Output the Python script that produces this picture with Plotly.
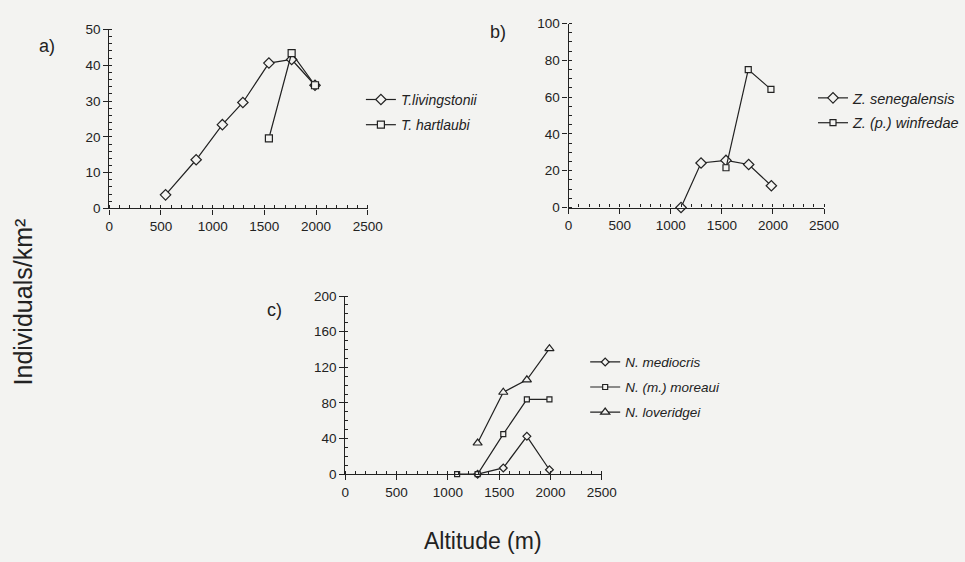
import plotly.graph_objects as go

# ---------------- data ----------------
alt_a_liv = [544, 840, 1094, 1292, 1544, 1764, 1990]
dens_a_liv = [3.8, 13.6, 23.4, 29.6, 40.6, 41.6, 34.4]
alt_a_har = [1544, 1764, 1990]
dens_a_har = [19.6, 43.4, 34.4]

alt_b_sen = [1100, 1296, 1540, 1762, 1984]
dens_b_sen = [0, 24.2, 25.6, 23.4, 11.8]
alt_b_win = [1540, 1758, 1980]
dens_b_win = [21.6, 75.0, 64.2]

alt_c_med = [1290, 1540, 1770, 1990]
dens_c_med = [0, 7, 42.5, 5]
alt_c_mor = [1090, 1290, 1540, 1770, 1990]
dens_c_mor = [0, 0, 45, 84, 84]
alt_c_lov = [1290, 1540, 1770, 1990]
dens_c_lov = [35, 92, 106, 141]

x_ticks = [0, 500, 1000, 1500, 2000, 2500]

BG = "#f3f3f1"
INK = "#222222"
FONT = "Arial, Liberation Sans, sans-serif"

W, H = 965, 562

def px_x(p):
    return p / W

def px_y(p):
    return (H - p) / H

fig = go.Figure()

def add(x, y, name, symbol, size, xa, ya, legend):
    fig.add_trace(go.Scatter(
        x=x, y=y, name=name, mode="lines+markers",
        xaxis=xa, yaxis=ya, legend=legend, legendgroup=name,
        line=dict(color=INK, width=1.2),
        marker=dict(symbol=symbol, size=size, color=BG,
                    line=dict(color=INK, width=1.2)),
        cliponaxis=False,
    ))

add(alt_a_liv, dens_a_liv, "<i>T.livingstonii</i>", "diamond", 8, "x", "y", "legend")
add(alt_a_har, dens_a_har, "<i>T. hartlaubi</i>", "square", 7, "x", "y", "legend")
add(alt_b_sen, dens_b_sen, "<i>Z. senegalensis</i>", "diamond", 8, "x2", "y2", "legend2")
add(alt_b_win, dens_b_win, "<i>Z. (p.) winfredae</i>", "square", 6, "x2", "y2", "legend2")
add(alt_c_med, dens_c_med, "<i>N. mediocris</i>", "diamond", 6, "x3", "y3", "legend3")
add(alt_c_mor, dens_c_mor, "<i>N. (m.) moreaui</i>", "square", 5, "x3", "y3", "legend3")
add(alt_c_lov, dens_c_lov, "<i>N. loveridgei</i>", "triangle-up", 8, "x3", "y3", "legend3")

TICKFONT = dict(size=13.5, color=INK, family=FONT)

def xaxis(dom, anchor):
    return dict(domain=dom, anchor=anchor, range=[0, 2500], tickvals=x_ticks,
                showgrid=False, zeroline=False, showline=True, linecolor=INK,
                linewidth=1.3, ticks="outside", ticklen=5, tickcolor=INK,
                tickwidth=1.2, tickfont=TICKFONT,
                minor=dict(dtick=100, ticks="inside", ticklen=3, tickcolor=INK,
                           tickwidth=1, showgrid=False))

def yaxis(dom, anchor, rng, dtick, mdtick):
    return dict(domain=dom, anchor=anchor, range=rng, dtick=dtick,
                showgrid=False, zeroline=False, showline=True, linecolor=INK,
                linewidth=1.3, ticks="outside", ticklen=5, tickcolor=INK,
                tickwidth=1.2, tickfont=TICKFONT,
                minor=dict(dtick=mdtick, ticks="inside", ticklen=3, tickcolor=INK,
                           tickwidth=1, showgrid=False))

fig.update_layout(
    width=W, height=H,
    margin=dict(l=0, r=0, t=0, b=0),
    paper_bgcolor=BG, plot_bgcolor=BG,
    font=dict(family=FONT, color=INK, size=12),
    xaxis=xaxis([px_x(108), px_x(373)], "y"),
    yaxis=yaxis([px_y(207), px_y(23)], "x", [0, 50], 10, 2),
    xaxis2=xaxis([px_x(579), px_x(841)], "y2"),
    yaxis2=yaxis([px_y(206), px_y(17)], "x2", [0, 100], 20, 5),
    xaxis3=xaxis([px_x(350), px_x(613)], "y3"),
    yaxis3=yaxis([px_y(480), px_y(297)], "x3", [0, 200], 40, 10),
    legend=dict(x=px_x(366), y=px_y(79), xanchor="left", yanchor="top",
                bgcolor="rgba(0,0,0,0)", tracegroupgap=4,
                font=dict(size=14, color=INK, family=FONT)),
    legend2=dict(x=px_x(830), y=px_y(77), xanchor="left", yanchor="top",
                 bgcolor="rgba(0,0,0,0)", tracegroupgap=3,
                 borderwidth=0,
                 font=dict(size=14.5, color=INK, family=FONT)),
    legend3=dict(x=px_x(596), y=px_y(349), xanchor="left", yanchor="top",
                 bgcolor="rgba(0,0,0,0)", tracegroupgap=4.5,
                 font=dict(size=13.5, color=INK, family=FONT)),
    showlegend=True,
)

ann = [
    dict(text="a)", x=px_x(44), y=px_y(40)),
    dict(text="b)", x=px_x(507), y=px_y(26)),
    dict(text="c)", x=px_x(277), y=px_y(311)),
]
for a in ann:
    fig.add_annotation(text=a["text"], x=a["x"], y=a["y"], xref="paper", yref="paper",
                       xanchor="center", yanchor="middle",
                       showarrow=False, font=dict(size=18, color=INK, family=FONT))

fig.add_annotation(text="Individuals/km²", x=px_x(19), y=px_y(303), xref="paper", yref="paper",
                   xanchor="center", yanchor="middle",
                   showarrow=False, textangle=-90, font=dict(size=25, color=INK, family=FONT))
fig.add_annotation(text="Altitude (m)", x=px_x(491), y=px_y(549), xref="paper", yref="paper",
                   xanchor="center", yanchor="middle",
                   showarrow=False, font=dict(size=23, color=INK, family=FONT))

fig.write_html("out.html")
